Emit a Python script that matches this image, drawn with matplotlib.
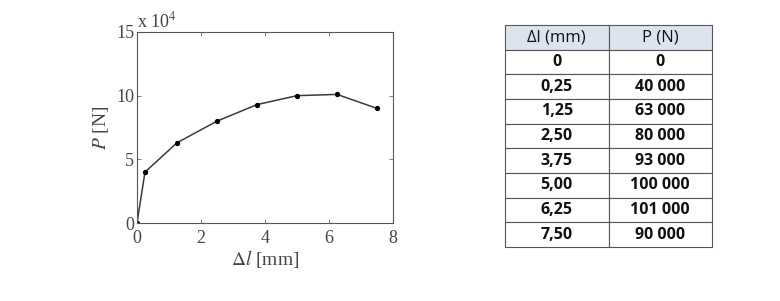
import matplotlib
matplotlib.use("Agg")
import matplotlib.pyplot as plt

dl = [0, 0.25, 1.25, 2.5, 3.75, 5.0, 6.25, 7.5]
P = [0, 40000, 63000, 80000, 93000, 100000, 101000, 90000]
dl_labels = ["0", "0,25", "1,25", "2,50", "3,75", "5,00", "6,25", "7,50"]
P_labels = ["0", "40 000", "63 000", "80 000", "93 000", "100 000", "101 000", "90 000"]
headers = ["Δl (mm)", "P (N)"]
xticks = [0, 2, 4, 6, 8]
yticks = [0, 50000, 100000, 150000]

plt.rcParams['mathtext.fontset'] = 'stix'
fig = plt.figure(figsize=(7.8, 3.01), dpi=100)

ax = fig.add_axes([137/780, 1-223/301, 256/780, 191/301])
ax.plot(dl, P, color='#3a3a3a', lw=1.1, marker='o', ms=2.8, mfc='black', mec='black')
ax.set_xlim(0, 8)
ax.set_ylim(0, 150000)
ax.set_xticks(xticks)
ax.set_yticks(yticks)
ax.set_xticklabels([str(t) for t in xticks], family='Liberation Serif', fontsize=13)
ax.set_yticklabels([f"{t/1e4:g}" for t in yticks], family='Liberation Serif', fontsize=13)
ax.tick_params(direction='in', top=True, right=True, length=3, width=0.6, colors='#666', labelcolor='#444')
ax.tick_params(axis='x', pad=5)
ax.tick_params(axis='y', pad=2)
for s in ax.spines.values():
    s.set_color('#555')
    s.set_linewidth(0.8)
ax.set_xlabel(r"$\Delta l$ [mm]", family='Liberation Serif', fontsize=14, color='#444', labelpad=1)
ax.set_ylabel(r"$P$ [N]", family='Liberation Serif', fontsize=14, color='#444', labelpad=4)
ax.text(0.0, 1.005, r"x 10$^{4}$", transform=ax.transAxes, family='Liberation Serif',
        fontsize=13, color='#444', ha='left', va='bottom')

tax = fig.add_axes([505/780, 1-247/301, 207/780, 222/301])
tax.axis('off')
cells = [[a, b] for a, b in zip(dl_labels, P_labels)]
tbl = tax.table(cellText=cells, colLabels=headers, bbox=[0, 0, 1, 1], cellLoc='center')
tbl.auto_set_font_size(False)
for (r, c), cell in tbl.get_celld().items():
    cell.set_edgecolor('#555555')
    cell.set_linewidth(0.8)
    t = cell.get_text()
    t.set_fontfamily('Open Sans')
    if r == 0:
        cell.set_facecolor('#dde4ef')
        t.set_fontsize(12)
        t.set_fontweight('normal')
    else:
        cell.set_facecolor('white')
        t.set_fontsize(11.5)
        t.set_fontweight('bold')
    t.set_color('#111')

fig.savefig("out.png", dpi=100)
